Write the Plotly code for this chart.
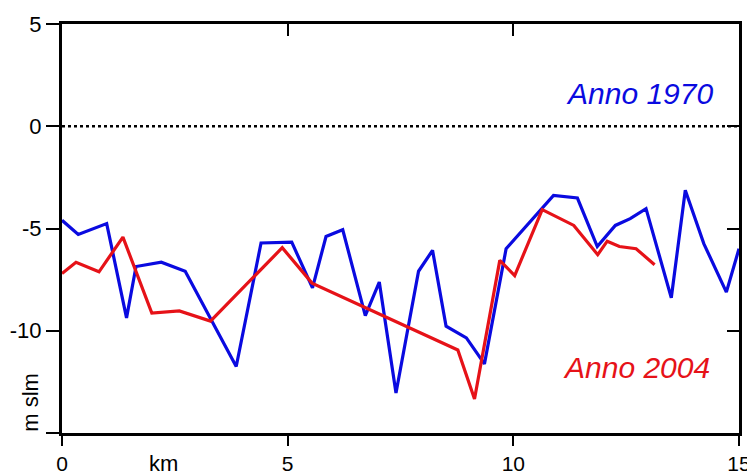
import plotly.graph_objects as go

# Profile 1970 (blue)
km_1970 = [0.00, 0.36, 0.99, 1.43, 1.64, 2.20, 2.73, 3.86, 4.41, 5.09, 5.55, 5.85,
           6.22, 6.72, 7.03, 7.40, 7.90, 8.21, 8.51, 8.96, 9.36, 9.84, 10.89, 11.42,
           11.86, 12.26, 12.59, 12.94, 13.50, 13.81, 14.22, 14.72, 15.00]
depth_1970 = [-4.60, -5.29, -4.76, -9.37, -6.86, -6.65, -7.09, -11.75, -5.71, -5.67, -7.90, -5.39,
              -5.06, -9.26, -7.62, -13.04, -7.09, -6.07, -9.78, -10.35, -11.62, -5.99, -3.38, -3.51,
              -5.88, -4.85, -4.52, -4.03, -8.39, -3.13, -5.74, -8.11, -5.99]

# Profile 2004 (red)
km_2004 = [0.00, 0.31, 0.82, 1.35, 1.99, 2.60, 3.29, 4.88, 5.54, 8.77, 9.14, 9.70,
           10.03, 10.64, 11.34, 11.87, 12.08, 12.35, 12.72, 13.13]
depth_2004 = [-7.20, -6.65, -7.12, -5.42, -9.14, -9.03, -9.53, -5.94, -7.67, -10.94, -13.34, -6.56,
              -7.30, -4.08, -4.85, -6.28, -5.62, -5.88, -5.99, -6.77]

x_ticks = [0, 5, 10, 15]
x_ticklabels = ["0", "5", "10", "15"]
y_ticks = [5, 0, -5, -10, -15]
y_ticklabels = ["5", "0", "-5", "-10", ""]

BLUE = "#0a0ae0"
RED = "#e61218"
FONT = "Arial, Liberation Sans, sans-serif"

fig = go.Figure()
fig.add_trace(go.Scatter(x=km_1970, y=depth_1970, mode="lines",
                         line=dict(color=BLUE, width=3.2), showlegend=False))
fig.add_trace(go.Scatter(x=km_2004, y=depth_2004, mode="lines",
                         line=dict(color=RED, width=3.2), showlegend=False))
# helper trace so the mirrored (top/right) axes are drawn
fig.add_trace(go.Scatter(x=[], y=[], xaxis="x2", yaxis="y2", showlegend=False))

fig.add_shape(type="line", xref="x", yref="y", x0=0, x1=15, y0=0, y1=0,
              line=dict(color="black", width=2.5, dash="dot"))

axis_common = dict(showgrid=False, zeroline=False, showline=True, linewidth=3,
                   linecolor="black", tickcolor="black", tickwidth=2, automargin=False)

# page body has an 8px margin, so the figure is sized to fill the rest of the window
fig.update_layout(
    width=747, height=464,
    margin=dict(l=54, r=16, t=16, b=39, autoexpand=False),
    plot_bgcolor="white", paper_bgcolor="white",
    font=dict(family=FONT, size=22, color="black"),
    xaxis=dict(range=[0, 15], tickvals=x_ticks, ticktext=x_ticklabels,
               ticks="outside", ticklen=10, tickfont=dict(size=21), **axis_common),
    yaxis=dict(range=[-15, 5], tickvals=y_ticks, ticktext=y_ticklabels,
               ticks="outside", ticklen=13, **axis_common),
    xaxis2=dict(range=[0, 15], overlaying="x", side="top", tickvals=[5, 10],
                ticks="inside", ticklen=12, showticklabels=False, **axis_common),
    yaxis2=dict(range=[-15, 5], overlaying="y", side="right", tickvals=[0, -5, -10, -15],
                ticks="inside", ticklen=12, showticklabels=False, **axis_common),
    showlegend=False,
)

fig.add_annotation(x=14.46, y=1.62, xref="x", yref="y", text="<i>Anno 1970</i>",
                   showarrow=False, xanchor="right", yanchor="middle",
                   font=dict(family=FONT, size=30, color=BLUE))
fig.add_annotation(x=14.41, y=-11.8, xref="x", yref="y", text="<i>Anno 2004</i>",
                   showarrow=False, xanchor="right", yanchor="middle",
                   font=dict(family=FONT, size=30, color=RED))
fig.add_annotation(x=2.24, y=0, xref="x", yref="paper", text="km",
                   showarrow=False, xanchor="center", yanchor="top", yshift=-16,
                   font=dict(family=FONT, size=22, color="black"))
fig.add_annotation(x=-0.0458, y=-13.47, xref="paper", yref="y", text="m slm",
                   showarrow=False, textangle=-90, xanchor="center", yanchor="middle",
                   font=dict(family=FONT, size=22, color="black"))

fig.write_html("out.html")
